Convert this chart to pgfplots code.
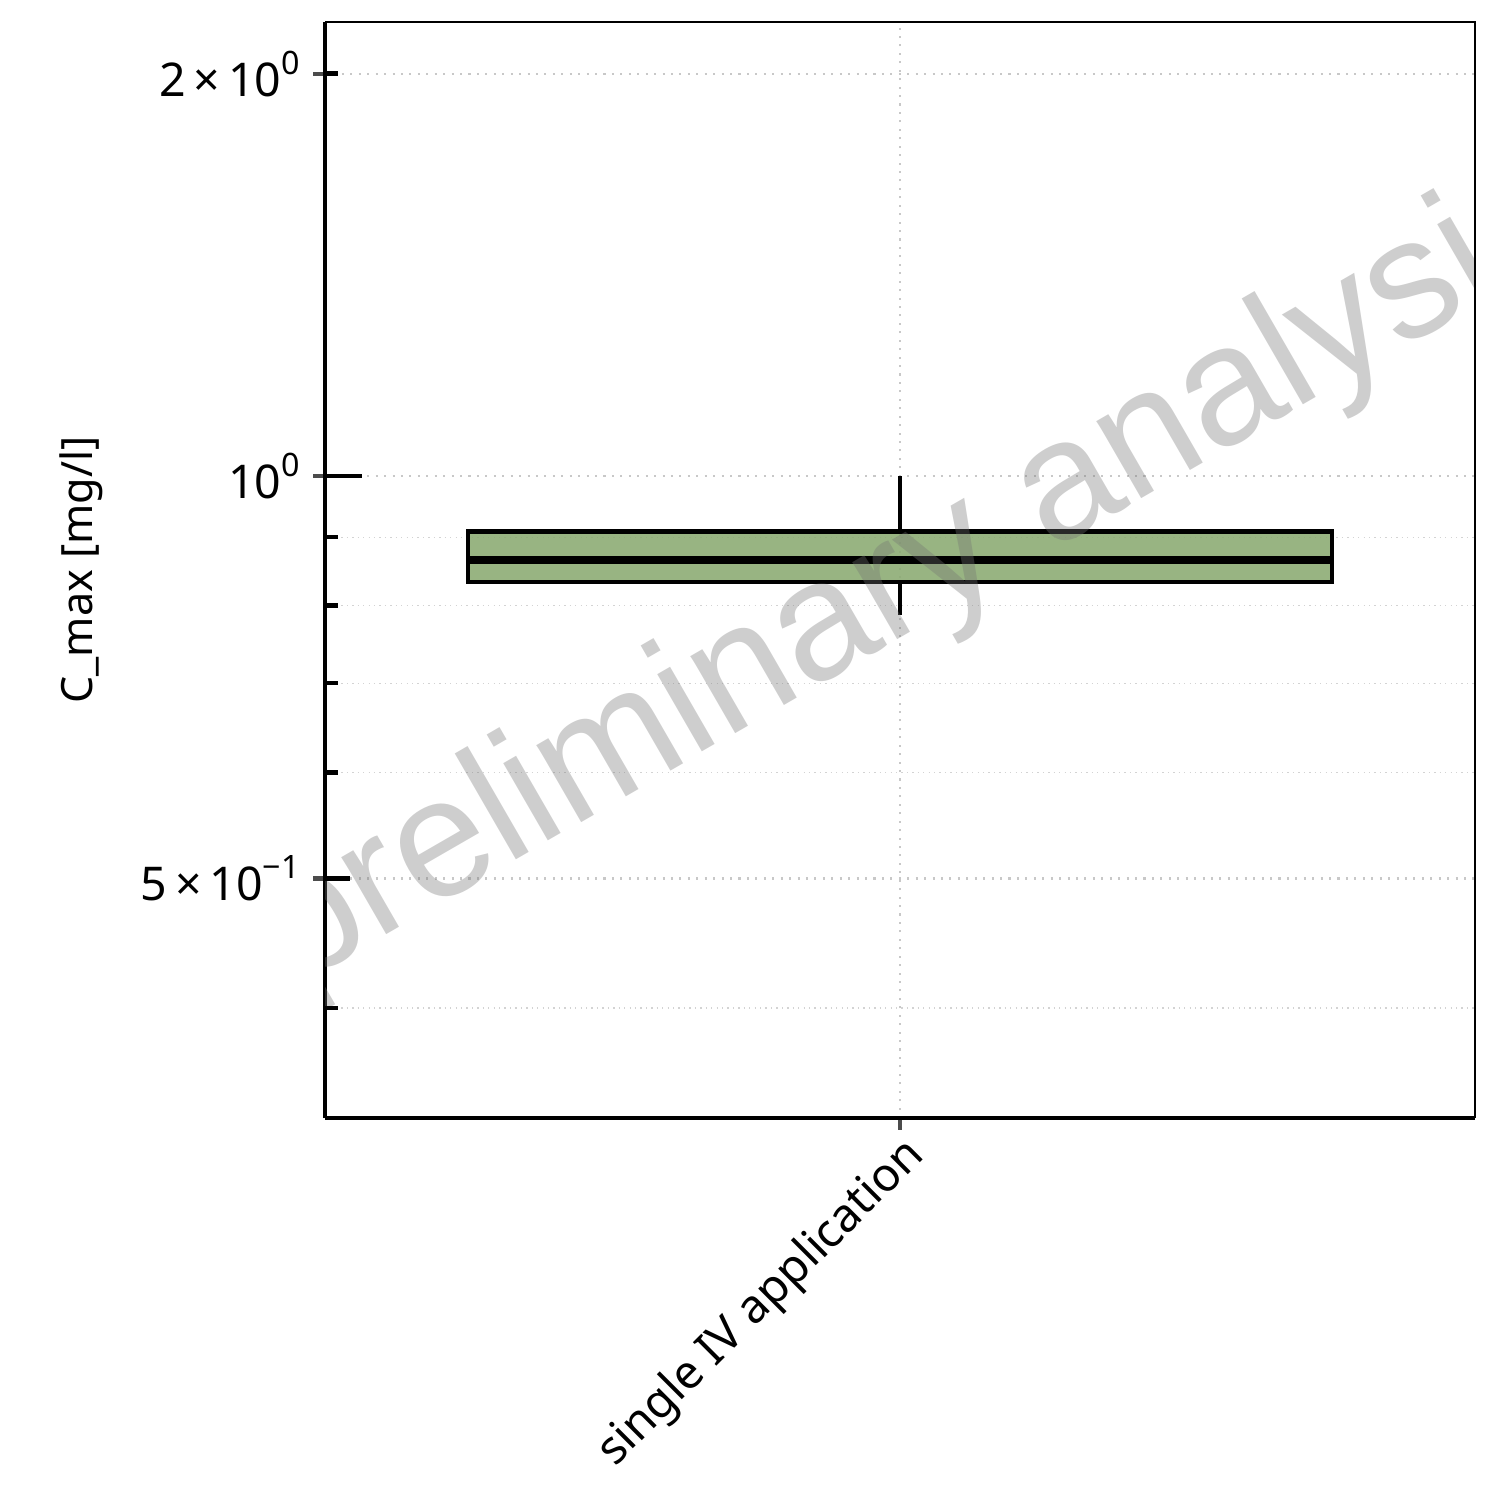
\documentclass[border=0pt]{standalone}
\usepackage{fontspec}
\setmainfont{Noto Sans}
\newfontfamily\wmfont{Liberation Sans}
\usepackage{pgfplots}
\pgfplotsset{compat=1.18}
\definecolor{boxgreen}{RGB}{138,170,113}
\definecolor{gridgray}{RGB}{200,200,200}
\newcommand{\sexp}[1]{\raisebox{5.8pt}{\fontsize{8.6}{9}\selectfont #1}}
\begin{document}
\begin{tikzpicture}
\useasboundingbox (0,0) rectangle (400pt,400pt);
\begin{axis}[
  name=main,
  at={(86.67pt,101.87pt)}, anchor=south west,
  scale only axis, width=306.67pt, height=292.27pt,
  ymode=log, log basis y=10,
  ymin=0.331, ymax=2.186,
  xmin=-0.5, xmax=0.5,
  enlargelimits=false,
  axis lines=left,
  axis line style={-, line width=1.2pt, black},
  xtick={0}, xticklabels={single IV application},
  ytick={0.5,1,2},
  yticklabels={5\,×\,10\sexp{−1}, 10\sexp{0}, 2\,×\,10\sexp{0}},
  minor ytick={0.4,0.6,0.7,0.8,0.9},
  minor tick length=0pt,
  tick align=outside,
  major tick length=3.2pt,
  tick style={line width=1.1pt, black!70},
  ymajorgrids, yminorgrids, xmajorgrids,
  major grid style={gridgray, line width=0.55pt, dash pattern=on 0.55pt off 1.7pt},
  minor grid style={gridgray!80, line width=0.35pt, dash pattern=on 0.35pt off 1.1pt},
  ticklabel style={font=\fontsize{12.4}{14}\selectfont},
  xticklabel style={xshift=7pt, yshift=-2.5pt, rotate=45, anchor=east},
  ylabel={C\_max [mg/l]},
  ylabel style={font=\fontsize{11.5}{14}\selectfont, at={(axis description cs:-0.212,0.5)}, anchor=center},
]
% whiskers
\addplot[black, line width=1.07pt, forget plot] coordinates {(0,0.9085) (0,1.0)};
\addplot[black, line width=1.07pt, forget plot] coordinates {(0,0.8331) (0,0.787)};
% box (lower quartile to upper quartile)
\addplot[fill=boxgreen, fill opacity=0.88, draw=black, line width=1.2pt, forget plot] coordinates {(-0.3755,0.8331) (0.3755,0.8331) (0.3755,0.9085) (-0.3755,0.9085)} -- cycle;
% median
\addplot[black, line width=2.3pt, forget plot] coordinates {(-0.3755,0.8653) (0.3755,0.8653)};
\node[rotate=30, anchor=base, font=\wmfont\fontsize{45}{50}\selectfont,
  text=black!55, text opacity=0.35] at (rel axis cs:0.532,0.457) {preliminary analysis};
\end{axis}
\begin{axis}[
  at={(86.67pt,101.87pt)}, anchor=south west,
  scale only axis, width=306.67pt, height=292.27pt,
  ymode=log, log basis y=10,
  ymin=0.331, ymax=2.186,
  xmin=-0.5, xmax=0.5,
  axis x line=none,
  axis y line*=left,
  y axis line style={draw=none},
  ytick={1}, yticklabels={},
  extra y ticks={0.5}, extra y tick labels={},
  extra y tick style={major tick length=6.7pt},
  minor ytick={0.4,0.6,0.7,0.8,0.9,2},
  tick align=inside,
  major tick length=9.9pt,
  minor tick length=3.5pt,
  tick style={line width=1.2pt, black},
]
\end{axis}
\draw[line width=0.55pt, black] (main.north west) -- (main.north east) -- (main.south east);
\end{tikzpicture}
\end{document}
